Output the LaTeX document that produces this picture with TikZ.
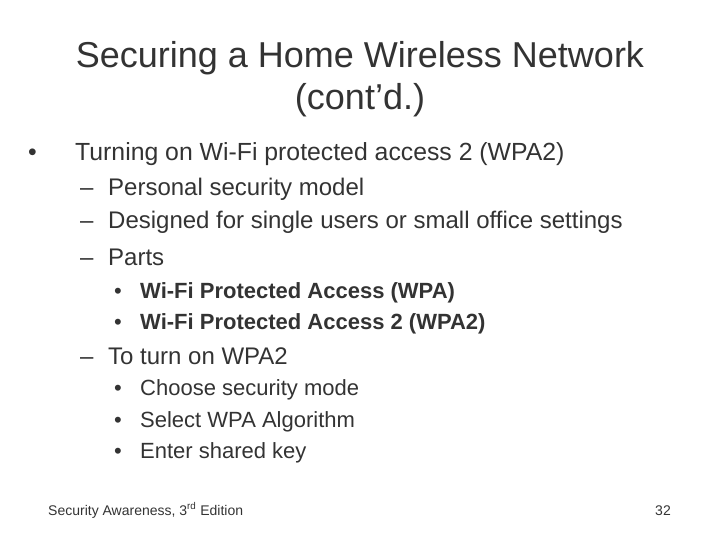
\documentclass[tikz,border=0pt]{standalone}
\usepackage{fontspec}
\setmainfont{Liberation Sans}
\definecolor{txt}{HTML}{333333}
\begin{document}
\begin{tikzpicture}[x=1pt,y=-1pt,
  every node/.style={text=txt,inner sep=0pt,anchor=base west},
  t/.style={font=\fontsize{36}{42}\selectfont,anchor=base},
  l1/.style={font=\fontsize{24.8}{29}\selectfont},
  l2/.style={font=\fontsize{24}{28}\selectfont},
  l3/.style={font=\fontsize{22}{26}\selectfont},
  ft/.style={font=\fontsize{14}{17}\selectfont}]
\useasboundingbox (0,0) rectangle (720,540);
\node[t] (t1) at (360,68) {Securing a Home Wireless Network};
\node[t] (t2) at (360,110) {(cont’d.)};
\node[l1] (b1) at (28,161) {•};
\node[l1] (b1t) at (75,161) {Turning on Wi-Fi protected access 2 (WPA2)};
\foreach \n/\y/\s in {a/196/Personal security model, b/229/Designed for single users or small office settings, c/265/Parts, d/364/To turn on WPA2}{
  \node[l2] (d\n) at (80,\y) {–};
  \node[l2] (s\n) at (108,\y) {\s};
}
\foreach \n/\y/\s in {a/298/\textbf{Wi-Fi Protected Access (WPA)}, b/329/\textbf{Wi-Fi Protected Access 2 (WPA2)}, c/395/Choose security mode, d/427/Select WPA Algorithm, e/458/Enter shared key}{
  \node[l3] (e\n) at (114,\y) {•};
  \node[l3] (f\n) at (140,\y) {\s};
}
\node[ft] (foot) at (48,515) {Security Awareness, 3\textsuperscript{rd} Edition};
\node[ft,anchor=base east] (pg) at (671,515) {32};
\end{tikzpicture}
\end{document}
